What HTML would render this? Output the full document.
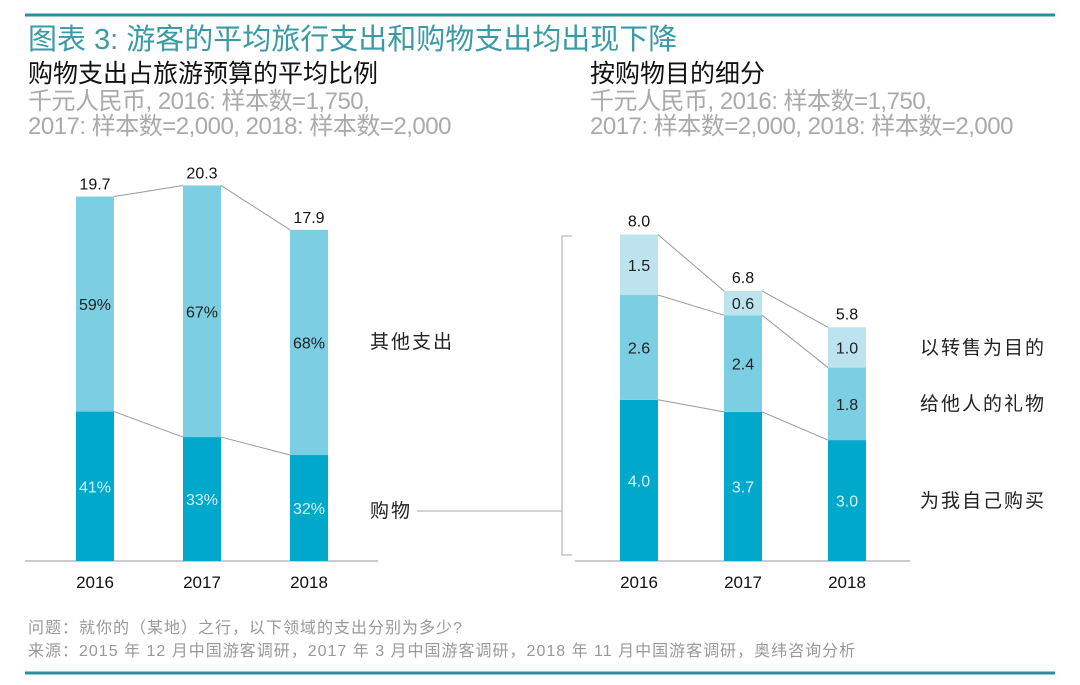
<!DOCTYPE html>
<html><head><meta charset="utf-8">
<style>
html,body{margin:0;padding:0;background:#fff;}
body{width:1080px;height:680px;overflow:hidden;font-family:"Liberation Sans","Noto Sans CJK SC",sans-serif;}
svg text{font-family:"Liberation Sans","Noto Sans CJK SC",sans-serif;}
</style></head>
<body>
<svg id="chart" width="1080" height="680" viewBox="0 0 1080 680" xmlns="http://www.w3.org/2000/svg">
<line x1="25" y1="15" x2="1055" y2="15" stroke="#2a8f9a" stroke-width="3"/>
<line x1="25" y1="673" x2="1055" y2="673" stroke="#2a8f9a" stroke-width="3"/>
<text x="28" y="49" font-size="29" fill="#3a9aa5">图表 3: 游客的平均旅行支出和购物支出均出现下降</text>
<text x="28" y="82" font-size="25" fill="#111">购物支出占旅游预算的平均比例</text>
<text x="28" y="109" font-size="24" fill="#aaa" letter-spacing="-0.5">千元人民币, 2016: 样本数=1,750,</text>
<text x="28" y="134" font-size="24" fill="#aaa" letter-spacing="-0.5">2017: 样本数=2,000, 2018: 样本数=2,000</text>
<text x="590" y="82" font-size="25" fill="#111">按购物目的细分</text>
<text x="590" y="109" font-size="24" fill="#aaa" letter-spacing="-0.5">千元人民币, 2016: 样本数=1,750,</text>
<text x="590" y="134" font-size="24" fill="#aaa" letter-spacing="-0.5">2017: 样本数=2,000, 2018: 样本数=2,000</text>
<line x1="25" y1="561" x2="378" y2="561" stroke="#bbb" stroke-width="1.5"/>
<line x1="575" y1="561" x2="910" y2="561" stroke="#bbb" stroke-width="1.5"/>
<text x="370" y="348" font-size="19" fill="#222" letter-spacing="2">其他支出</text>
<text x="370" y="517" font-size="19" fill="#222" letter-spacing="2">购物</text>
<line x1="417" y1="511" x2="562" y2="511" stroke="#aaa" stroke-width="1"/>
<path d="M572 236 H562 V555 H572" fill="none" stroke="#aaa" stroke-width="1"/>
<text x="920" y="354" font-size="19" fill="#222" letter-spacing="2">以转售为目的</text>
<text x="920" y="410" font-size="19" fill="#222" letter-spacing="2">给他人的礼物</text>
<text x="920" y="507" font-size="19" fill="#222" letter-spacing="2">为我自己购买</text>
<text x="28" y="633" font-size="16" fill="#999" letter-spacing="1">问题：就你的（某地）之行，以下领域的支出分别为多少?</text>
<text x="28" y="656" font-size="16" fill="#999" letter-spacing="1">来源：2015 年 12 月中国游客调研，2017 年 3 月中国游客调研，2018 年 11 月中国游客调研，奥纬咨询分析</text>
<g id="g"></g>
</svg>
<script>
const years = ["2016","2017","2018"];
const leftTotals = [19.7, 20.3, 17.9];
const shopPct = [41, 33, 32];
const otherPct = [59, 67, 68];
const selfVals = [4.0, 3.7, 3.0];
const giftVals = [2.6, 2.4, 1.8];
const resaleVals = [1.5, 0.6, 1.0];
const rightTotals = [8.0, 6.8, 5.8];

const NS = "http://www.w3.org/2000/svg";
const g = document.getElementById("g");
const base = 561;
const lx = [76, 183, 290], rx = [620, 724, 828], bw = 38;
const ly = v => base - v * 18.5;
const ry = v => base - v * 40.3;
const dark = "#00a8cb", mid = "#7ccfe3", light = "#bde4ee";
function mk(tag, attrs) { const e = document.createElementNS(NS, tag); for (const k in attrs) e.setAttribute(k, attrs[k]); g.appendChild(e); return e; }
function txt(x, y, s, fill, size) { const t = mk("text", {x:x, y:y, "text-anchor":"middle", "font-size":size||17, fill:fill}); t.textContent = s; return t; }

for (let i = 0; i < years.length; i++) {
  const tot = leftTotals[i], shop = tot * shopPct[i] / 100;
  const r1 = mk("rect", {x:lx[i], y:ly(shop), width:bw, height:base-ly(shop), fill:dark});
  
  
  const r2 = mk("rect", {x:lx[i], y:ly(tot), width:bw, height:ly(shop)-ly(tot), fill:mid});
  
  
  let t = txt(lx[i]+bw/2, (ly(shop)+base)/2+6, shopPct[i]+"%", "#d4f2f8", 16);
  
  
  t = txt(lx[i]+bw/2, (ly(shop)+ly(tot))/2+6, otherPct[i]+"%", "#222", 16);
  
  
  t = txt(lx[i]+bw/2, ly(tot)-7, tot.toFixed(1), "#111", 16);
  
  
  t = txt(lx[i]+bw/2, 588, years[i], "#111", 17);
  
  
  if (i < years.length - 1) {
    const s2 = leftTotals[i+1] * shopPct[i+1] / 100;
    let l = mk("line", {x1:lx[i]+bw, y1:ly(tot), x2:lx[i+1], y2:ly(leftTotals[i+1]), stroke:"#999", "stroke-width":1});
    
    
    l = mk("line", {x1:lx[i]+bw, y1:ly(shop), x2:lx[i+1], y2:ly(s2), stroke:"#999", "stroke-width":1});
    
    
  }
}

for (let i = 0; i < years.length; i++) {
  const a = selfVals[i], b = a + giftVals[i], c = b + resaleVals[i];
  const segs = [[0,a,dark,"self"],[a,b,mid,"gift"],[b,c,light,"resale"]];
  const vals = [selfVals[i], giftVals[i], resaleVals[i]];
  segs.forEach((s, k) => {
    const r = mk("rect", {x:rx[i], y:ry(s[1]), width:bw, height:ry(s[0])-ry(s[1]), fill:s[2]});
    
    
    const t = txt(rx[i]+bw/2, (ry(s[0])+ry(s[1]))/2+6, vals[k].toFixed(1), k===0?"#d4f2f8":"#222", 16);
    
    
  });
  let t = txt(rx[i]+bw/2, ry(c)-8, rightTotals[i].toFixed(1), "#111", 16);
  
  
  t = txt(rx[i]+bw/2, 588, years[i], "#111", 17);
  
  
  if (i < years.length - 1) {
    const a2 = selfVals[i+1], b2 = a2 + giftVals[i+1], c2 = b2 + resaleVals[i+1];
    [[a,a2],[b,b2],[c,c2]].forEach(p => {
      const l = mk("line", {x1:rx[i]+bw, y1:ry(p[0]), x2:rx[i+1], y2:ry(p[1]), stroke:"#999", "stroke-width":1});
      
      
    });
  }
}
</script>
</body></html>
